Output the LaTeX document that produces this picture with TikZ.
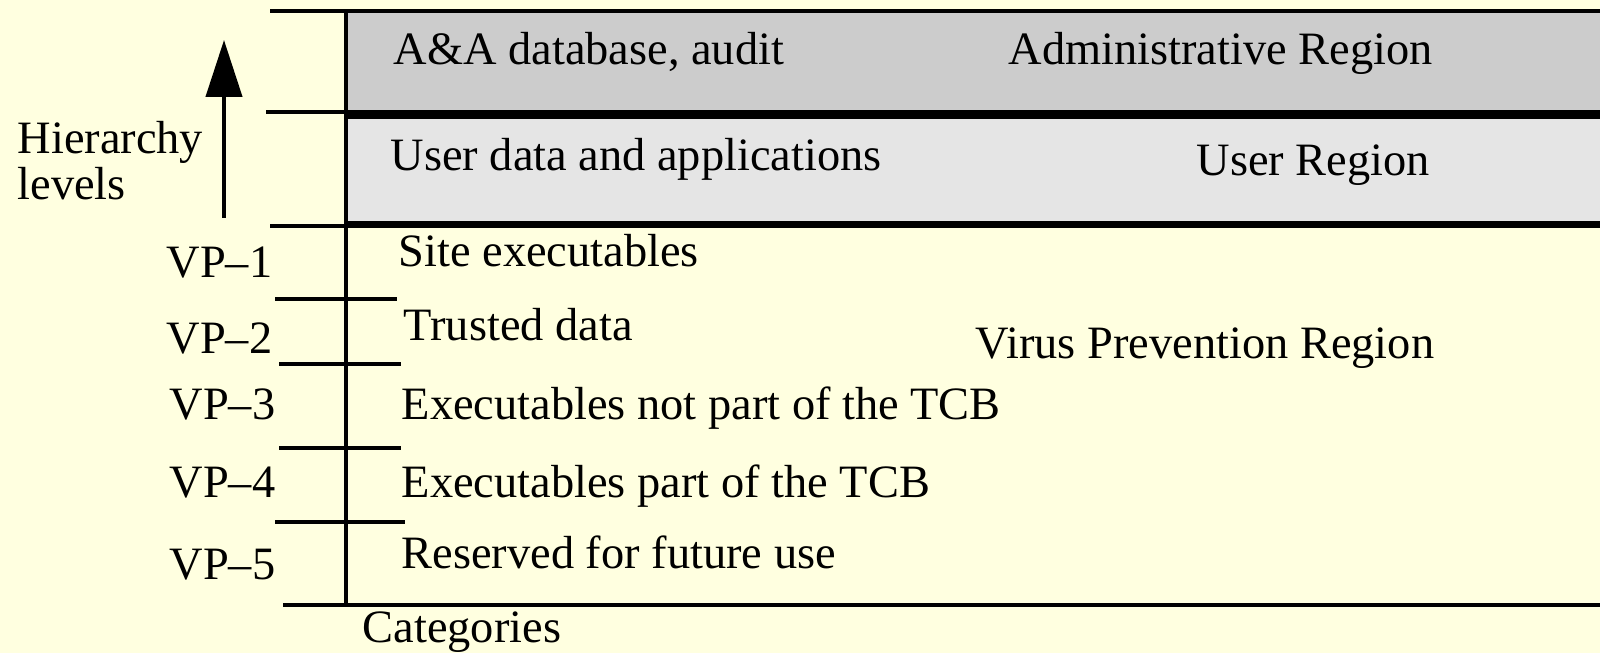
\documentclass[tikz,border=0pt]{standalone}
\usepackage{fontspec}
\setmainfont{Liberation Serif}
\usepackage{tikz}
\usetikzlibrary{arrows.meta}
\usepackage{xcolor}
\definecolor{paperbg}{RGB}{255,255,224}
\definecolor{adminfill}{RGB}{204,204,204}
\definecolor{userfill}{RGB}{229,229,229}

\tikzset{
  lbl/.style={anchor=base west,inner sep=0pt,font=\fontsize{13.2}{15}\selectfont},
  rule/.style={black,line width=1.05pt},
  regionbox/.style={draw=black,line width=1.2pt}
}

\begin{document}
\begin{tikzpicture}
  % --- background ---
  \fill[paperbg] (0,0) rectangle (16,6.53);
  \useasboundingbox (0,0) rectangle (16,6.53);

  % --- shaded regions ---
  \filldraw[regionbox,fill=adminfill] (3.46,6.42) rectangle (16.2,5.405);
  \filldraw[regionbox,fill=userfill] (3.46,5.365) rectangle (16.2,4.30);

  % --- level rules and category axis ---
  \draw[rule] (2.70,6.42) -- (16.2,6.42);
  \draw[rule] (2.66,5.41) -- (3.46,5.41);
  \draw[rule] (2.70,4.27) -- (16.2,4.27);
  \draw[rule] (2.83,0.48) -- (16.2,0.48);
  \draw[rule,line width=1.25pt] (3.46,6.42) -- (3.46,0.48);

  % VP separators
  \foreach \y/\xa/\xb in {3.54/2.75/3.97, 2.89/2.79/4.01, 2.05/2.79/4.01, 1.31/2.75/4.05}{
    \draw[rule] (\xa,\y) -- (\xb,\y);
  }

  % --- hierarchy arrow ---
  \coordinate (lowend) at (2.24,4.35);
  \coordinate (highend) at (2.24,6.13);
  \draw[line width=1.2pt,-{Triangle[length=0.57cm,width=0.36cm]}] (lowend) -- (highend);
  \node[lbl] (hier) at (0.17,4.99) {Hierarchy};
  \node[lbl] (levels) at (0.17,4.53) {levels};

  % --- region texts ---
  \node[lbl] (aadb) at (3.93,5.88) {A\&A database, audit};
  \node[lbl] (admin) at (10.08,5.88) {Administrative Region};
  \node[lbl] (userdata) at (3.90,4.82) {User data and applications};
  \node[lbl] (user) at (11.96,4.77) {User Region};
  \node[lbl] (virus) at (9.75,2.94) {Virus Prevention Region};

  % --- VP levels ---
  \foreach \i/\x/\y in {1/1.66/3.75, 2/1.66/2.99, 3/1.69/2.33, 4/1.69/1.55, 5/1.69/0.73}{
    \node[lbl] (vp\i) at (\x,\y) {VP--\i};
  }
  \node[lbl] (site) at (3.98,3.86) {Site executables};
  \node[lbl] (trusted) at (4.03,3.12) {Trusted data};
  \node[lbl] (notcb) at (4.01,2.33) {Executables not part of the TCB};
  \node[lbl] (tcb) at (4.01,1.55) {Executables part of the TCB};
  \node[lbl] (future) at (4.01,0.84) {Reserved for future use};

  \node[lbl] (cat) at (3.62,0.10) {Categories};

\end{tikzpicture}
\end{document}
